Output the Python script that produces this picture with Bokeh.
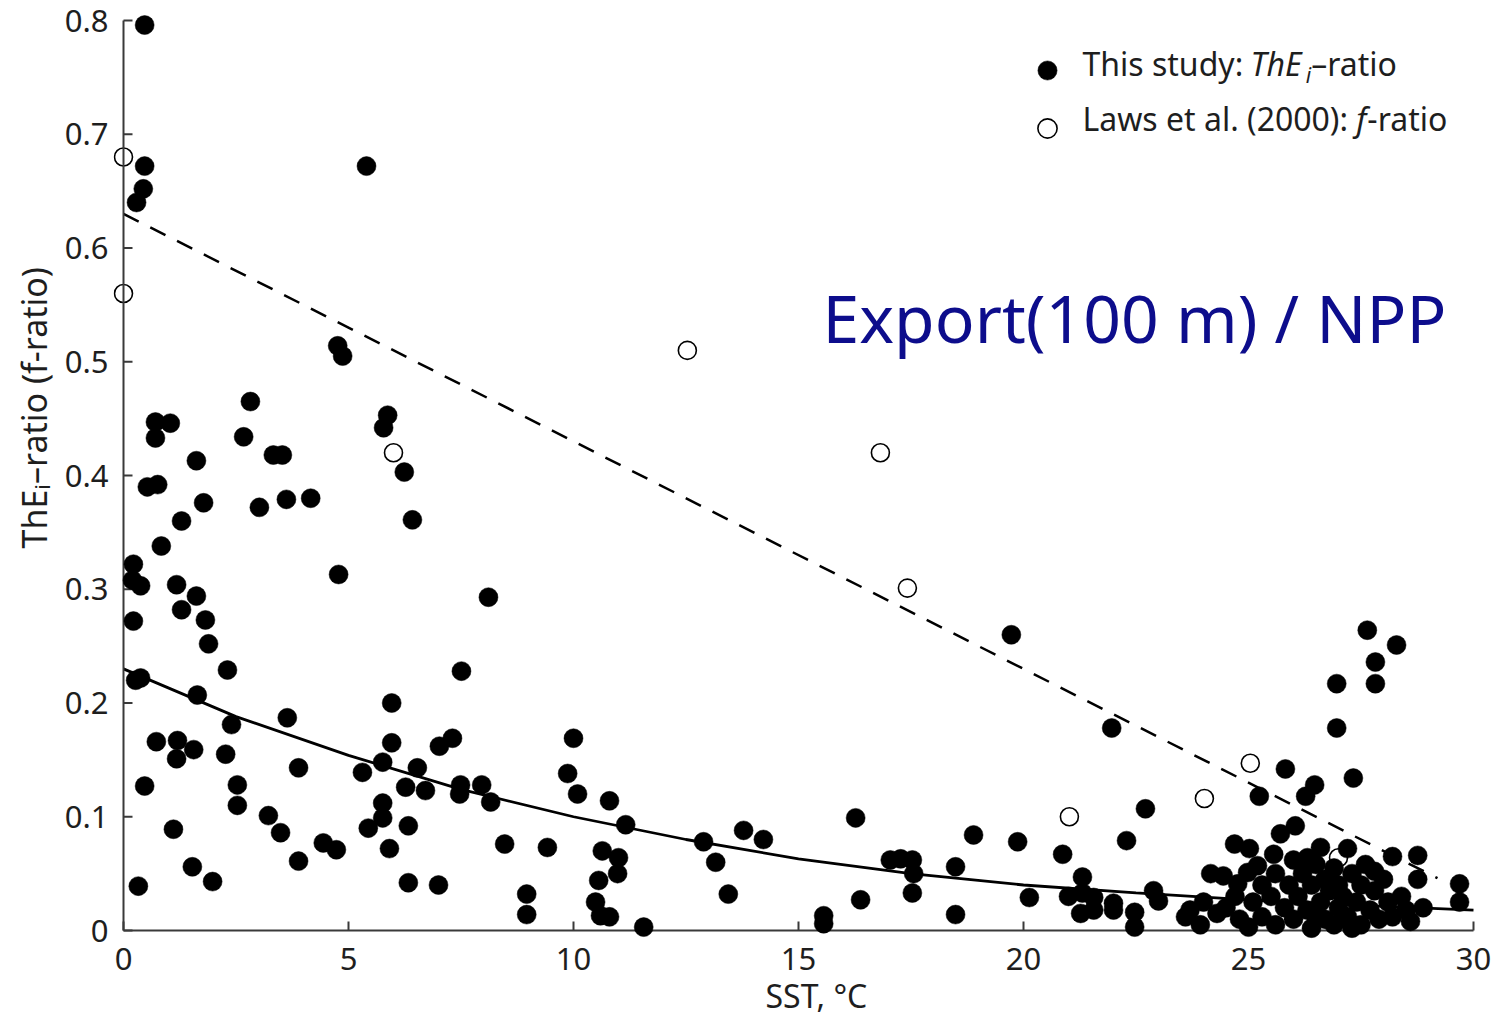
import math
from bokeh.plotting import figure
from bokeh.models import Range1d, FixedTicker, Label, Legend, LegendItem, Title
from bokeh.embed import file_html
from bokeh.resources import INLINE

# ---------------- data ----------------
this_study_sst = [
    0.47, 0.47, 0.44, 0.29, 5.4, 4.76, 4.87, 2.82, 0.71, 1.04, 0.71, 2.67, 5.87, 5.78, 1.62,
    3.33, 3.53, 0.53, 0.76, 6.24, 1.78, 3.02, 3.62, 4.16, 1.29, 6.42, 0.84, 0.22, 4.78, 0.2,
    0.38, 1.18, 1.62, 8.11, 1.29, 1.82, 0.22, 1.89, 2.31, 7.51, 0.27, 0.38, 1.64, 5.96, 3.64,
    2.4, 7.31, 7.02, 10.0, 0.73, 1.2, 5.96, 1.56, 1.18, 2.27, 3.89, 5.31, 5.76, 6.53, 9.87,
    0.47, 2.53, 6.27, 6.71, 7.49, 7.47, 7.96, 10.09, 8.16, 10.8, 2.53, 5.76, 3.22, 5.76, 11.16,
    6.33, 5.44, 1.11, 3.49, 4.44, 4.73, 5.91, 8.47, 9.42, 10.64, 11.0, 3.89, 1.53, 10.98, 1.98,
    10.56, 0.33, 6.33, 7.0, 8.96, 8.96, 10.49, 10.6, 10.8, 11.56,
    12.89, 13.16, 13.44, 13.78, 14.22, 16.27, 16.38, 15.56, 15.56, 17.04, 17.27, 17.53, 17.56,
    17.53, 18.49, 18.49, 18.89, 19.73, 19.87, 20.13, 20.87, 21.31, 21.0, 21.31, 21.56, 21.27,
    21.56, 22.0, 22.0, 21.96, 22.29, 22.71, 22.47, 22.47, 22.89, 23.0,
    27.64, 28.29, 27.82, 27.82, 26.96, 26.96, 27.33, 25.82, 25.24, 26.47, 26.27, 26.04, 25.71,
    25.56, 24.69, 25.02, 28.2, 28.76, 28.76, 28.88, 29.69, 29.69, 26.6, 27.2, 26.31, 23.6,
    23.93, 23.7, 24.16, 24.44, 24.76, 24.98, 25.2,
    24.0, 24.3, 24.5, 24.8, 25.0, 25.1, 25.3, 25.5, 25.6, 25.8, 25.9, 26.0, 26.1, 26.2, 26.3,
    26.4, 26.4, 26.5, 26.6, 26.7, 26.7, 26.8, 26.9, 26.9, 27.0, 27.0, 27.1, 27.2, 27.3, 27.4,
    27.5, 27.5, 27.6, 27.7, 27.8, 27.9, 28.0, 28.1, 28.2, 28.4, 28.5, 28.6, 25.6, 27.8, 26.0,
    25.3, 24.7, 26.5, 27.3,
]
this_study_ratio = [
    0.796, 0.672, 0.652, 0.64, 0.672, 0.514, 0.505, 0.465, 0.447, 0.446, 0.433, 0.434, 0.453, 0.442, 0.413,
    0.418, 0.418, 0.39, 0.392, 0.403, 0.376, 0.372, 0.379, 0.38, 0.36, 0.361, 0.338, 0.322, 0.313, 0.308,
    0.303, 0.304, 0.294, 0.293, 0.282, 0.273, 0.272, 0.252, 0.229, 0.228, 0.22, 0.222, 0.207, 0.2, 0.187,
    0.181, 0.169, 0.162, 0.169, 0.166, 0.167, 0.165, 0.159, 0.151, 0.155, 0.143, 0.139, 0.148, 0.143, 0.138,
    0.127, 0.128, 0.126, 0.123, 0.128, 0.12, 0.128, 0.12, 0.113, 0.114, 0.11, 0.112, 0.101, 0.099, 0.093,
    0.092, 0.09, 0.089, 0.086, 0.077, 0.071, 0.072, 0.076, 0.073, 0.07, 0.064, 0.061, 0.056, 0.05, 0.043,
    0.044, 0.039, 0.042, 0.04, 0.032, 0.014, 0.025, 0.013, 0.012, 0.003,
    0.078, 0.06, 0.032, 0.088, 0.08, 0.099, 0.027, 0.013, 0.006, 0.062, 0.063, 0.062, 0.05,
    0.033, 0.056, 0.014, 0.084, 0.26, 0.078, 0.029, 0.067, 0.047, 0.03, 0.033, 0.029, 0.015,
    0.018, 0.024, 0.018, 0.178, 0.079, 0.107, 0.016, 0.003, 0.035, 0.026,
    0.264, 0.251, 0.236, 0.217, 0.217, 0.178, 0.134, 0.142, 0.118, 0.128, 0.118, 0.092, 0.085,
    0.067, 0.076, 0.072, 0.065, 0.066, 0.045, 0.02, 0.041, 0.025, 0.073, 0.072, 0.064, 0.012,
    0.005, 0.018, 0.05, 0.048, 0.041, 0.051, 0.057,
    0.025, 0.015, 0.02, 0.01, 0.003, 0.025, 0.012, 0.03, 0.005, 0.02, 0.04, 0.01, 0.03, 0.05, 0.018,
    0.002, 0.04, 0.058, 0.025, 0.01, 0.045, 0.035, 0.005, 0.055, 0.02, 0.04, 0.03, 0.012, 0.05, 0.025,
    0.04, 0.005, 0.058, 0.018, 0.035, 0.01, 0.045, 0.025, 0.012, 0.03, 0.018, 0.008, 0.05, 0.052, 0.062,
    0.04, 0.03, 0.012, 0.002,
]
laws_sst = [0.0, 0.0, 6.0, 12.53, 16.82, 17.42, 21.02, 24.02, 25.04, 27.0]
laws_ratio = [0.68, 0.56, 0.42, 0.51, 0.42, 0.301, 0.10, 0.116, 0.147, 0.064]

# fitted curves
this_fit_sst = [0, 2.5, 5, 7.5, 10, 12.5, 15, 17.5, 20, 22.5, 25, 27.5, 30]
this_fit_ratio = [0.23, 0.188, 0.154, 0.124, 0.100, 0.080, 0.063, 0.050, 0.040, 0.033, 0.027, 0.022, 0.018]
laws_fit_sst = [0.0, 29.2]
laws_fit_ratio = [0.63, 0.046]

x_tick_values = [0, 5, 10, 15, 20, 25, 30]
y_tick_values = [0, 0.1, 0.2, 0.3, 0.4, 0.5, 0.6, 0.7, 0.8]
y_tick_labels = ["0", "0.1", "0.2", "0.3", "0.4", "0.5", "0.6", "0.7", "0.8"]

# ---------------- layout ----------------
W, H = 1499, 1021
FL, FR, FT, FB = 113, 16, 12, 83        # frame borders (px)
X0PX, XPU = 123, 45.0                   # pixel of x=0, pixels per unit
Y0PX, YPU = 930, 1137.5                 # pixel of y=0, pixels per unit
x_lo = -(X0PX - FL) / XPU
x_hi = x_lo + (W - FL - FR) / XPU
y_lo = -(H - FB - Y0PX) / YPU
y_hi = y_lo + (H - FT - FB) / YPU

def dx(px):
    return (px - X0PX) / XPU

def dy(py):
    return (Y0PX - py) / YPU

FONT = "Noto Sans"
TXT = "#1e1e1e"
AX = "#3a3a3a"
BASE_FIX = 0.40   # empirical: alphabetic anchor sits this many em above baseline

p = figure(width=W, height=H, output_backend="svg", toolbar_location=None,
           x_range=Range1d(x_lo, x_hi), y_range=Range1d(y_lo, y_hi),
           min_border_left=FL, min_border_right=FR, min_border_top=FT, min_border_bottom=FB,
           title=None)
p.background_fill_color = "white"
p.border_fill_color = "white"
p.outline_line_color = None
p.xgrid.visible = False
p.ygrid.visible = False

for ax in (p.xaxis[0], p.yaxis[0]):
    ax.axis_line_color = None
    ax.major_tick_line_color = None
    ax.minor_tick_line_color = None
    ax.major_tick_in = 0
    ax.major_tick_out = 0
    ax.major_label_text_font = FONT
    ax.major_label_text_font_size = "31px"
    ax.major_label_text_color = TXT

p.xaxis[0].ticker = FixedTicker(ticks=x_tick_values)
p.yaxis[0].ticker = FixedTicker(ticks=y_tick_values)
p.yaxis[0].major_label_overrides = {v: s for v, s in zip(y_tick_values, y_tick_labels)}
p.yaxis[0].major_label_standoff = 5
p.xaxis[0].major_label_standoff = 9

# axis titles as side-panel titles (not clipped by the frame)
p.add_layout(Title(text="ThEᵢ–ratio (f-ratio)", align="left", offset=(H - FB) - 548,
                   vertical_align="bottom", standoff=9,
                   text_font=FONT, text_font_size="34px", text_font_style="normal",
                   text_color=TXT), "left")
p.add_layout(Title(text="SST, °C", align="left", offset=765 - FL,
                   vertical_align="bottom", standoff=-2,
                   text_font=FONT, text_font_size="32px", text_font_style="normal",
                   text_color=TXT), "below")

# fitted lines
p.line(laws_fit_sst, laws_fit_ratio, line_color="black", line_width=2.5, line_dash="17 13")
p.line(this_fit_sst, this_fit_ratio, line_color="black", line_width=2.8)

# Laws et al. points
r_laws = p.scatter(laws_sst, laws_ratio, marker="circle", size=18, fill_color="white",
                   line_color="black", line_width=1.6)

# axis lines and inward ticks at the data origin
tick_len_y = 9 / YPU
tick_len_x = 9 / XPU
p.segment(x0=[x_tick_values[0], 0], y0=[0, y_tick_values[0]],
          x1=[x_tick_values[-1], 0], y1=[0, y_tick_values[-1]],
          line_color=AX, line_width=2)
p.segment(x0=x_tick_values, y0=[0] * len(x_tick_values),
          x1=x_tick_values, y1=[tick_len_y] * len(x_tick_values),
          line_color=AX, line_width=2)
p.segment(x0=[0] * len(y_tick_values), y0=y_tick_values,
          x1=[tick_len_x] * len(y_tick_values), y1=y_tick_values,
          line_color=AX, line_width=2)

# this study points
r_this = p.scatter(this_study_sst, this_study_ratio, marker="circle", size=19,
                   fill_color="black", line_color="black", line_width=0.5)

# legend (markers) - text drawn as separate labels to allow italics
legend = Legend(items=[LegendItem(label=" ", renderers=[r_this]),
                       LegendItem(label=" ", renderers=[r_laws])],
                location=(1047 - 24 - FL, H - FB - 152), glyph_width=48, glyph_height=48,
                spacing=10, padding=0, margin=0, label_standoff=0, label_width=0,
                border_line_color=None, background_fill_alpha=0, label_text_font_size="1px")
p.add_layout(legend)

# text helpers
CW = {' ': 0.26, '(': 0.296, ')': 0.296, '-': 0.322, '–': 0.5, '.': 0.268, ':': 0.268,
      '0': 0.572, '1': 0.572, '2': 0.572, 'T': 0.556, 'h': 0.613, 'E': 0.556, 'i': 0.258,
      's': 0.479, 't': 0.352, 'u': 0.613, 'd': 0.613, 'y': 0.501, 'r': 0.411, 'a': 0.561,
      'o': 0.603, 'L': 0.529, 'w': 0.801, 'e': 0.561, 'l': 0.258, 'f': 0.344}

def tw(s, size):
    return sum(CW.get(c, 0.56) for c in s) * size

def row_data(pieces, px, py):
    """horizontal run of text pieces in data units; py is the baseline in px."""
    pos = 0.0
    for text, size, style, shift, adv in pieces:
        x, y = px + pos, py + shift - BASE_FIX * size
        p.add_layout(Label(x=dx(x), y=dy(y), text=text,
                           text_font=FONT, text_font_size=f"{size}px",
                           text_font_style=style, text_color=TXT,
                           text_align="left", text_baseline="alphabetic"))
        pos += tw(adv, size)

LS = 32
row_data([("This study:", LS, "normal", 0, "This study: "),
          ("ThE", LS, "italic", 0, "ThE"),
          ("i", 21, "italic", 7, "i"),
          ("–ratio", LS, "normal", 0, "–ratio")], 1082, 76)
row_data([("Laws et al. (2000):", LS, "normal", 0, "Laws et al. (2000): "),
          ("f", LS, "italic", 0, "f"),
          ("-ratio", LS, "normal", 0, "-ratio")], 1082, 131)

# big annotation
p.add_layout(Label(x=dx(822), y=dy(343 - BASE_FIX * 66), text="Export(100 m) / NPP",
                   text_font=FONT, text_font_size="66px", text_color="#0d0d8c",
                   text_align="left", text_baseline="alphabetic"))

open("out.html", "w").write(file_html(p, INLINE))
